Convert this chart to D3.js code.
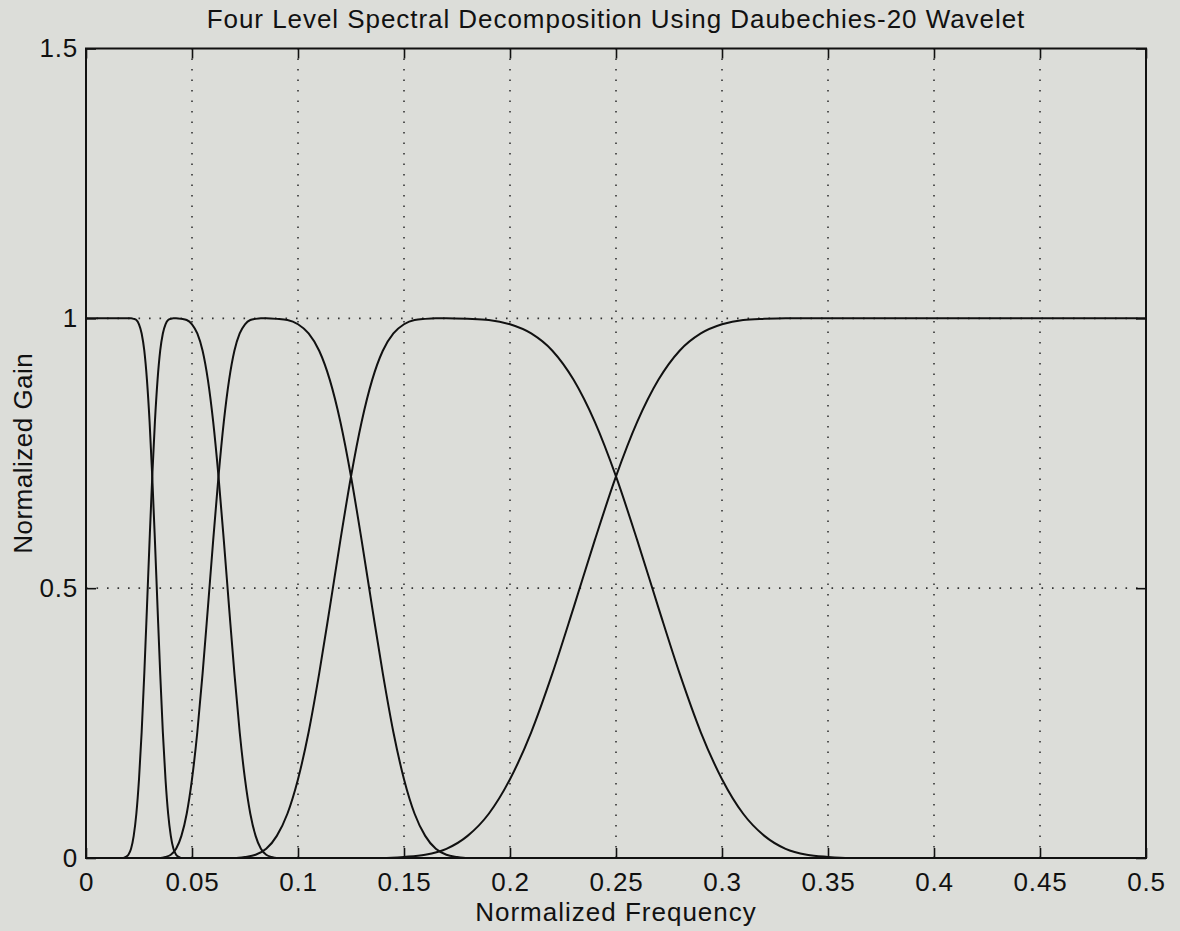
<!DOCTYPE html>
<html>
<head>
<meta charset="utf-8">
<script src="https://cdn.jsdelivr.net/npm/d3@7"></script>
<style>
  html, body { margin: 0; padding: 0; background: #dcddd9; }
  svg { display: block; }
  text { font-family: "Liberation Sans", Arial, Helvetica, sans-serif; fill: #111; }
</style>
</head>
<body>
<svg id="chart" width="1180" height="931"></svg>
<script>
// ---------------- data ----------------
const titleText = "Four Level Spectral Decomposition Using Daubechies-20 Wavelet";
const xLabelText = "Normalized Frequency";
const yLabelText = "Normalized Gain";

const xTickValues = [0, 0.05, 0.1, 0.15, 0.2, 0.25, 0.3, 0.35, 0.4, 0.45, 0.5];
const yTickValues = [0, 0.5, 1, 1.5];
const xGridValues = [0.05, 0.1, 0.15, 0.2, 0.25, 0.3, 0.35, 0.4, 0.45];
const yGridValues = [0.5, 1];

// Level-4 approximation (lowest band)
const freqA4 = [0, 0.02125, 0.0225, 0.02375, 0.025, 0.02625, 0.0275, 0.02875, 0.03, 0.03125,
  0.0325, 0.03375, 0.035, 0.03625, 0.0375, 0.03875, 0.04, 0.04125, 0.0425, 0.04375, 0.045, 0.5];
const gainA4 = [1, 1, 0.999, 0.997, 0.989, 0.972, 0.940, 0.886, 0.808, 0.707,
  0.589, 0.464, 0.342, 0.233, 0.146, 0.082, 0.041, 0.017, 0.006, 0.002, 0, 0];

// Level-4 detail
const freqD4 = [0, 0.0175, 0.01875, 0.02, 0.02125, 0.0225, 0.02375, 0.025, 0.02625, 0.0275,
  0.02875, 0.03, 0.03125, 0.0325, 0.03375, 0.035, 0.03625, 0.0375, 0.03875, 0.04, 0.04125,
  0.0425, 0.045, 0.0475, 0.05, 0.0525, 0.055, 0.0575, 0.06, 0.0625, 0.065, 0.0675, 0.07,
  0.0725, 0.075, 0.0775, 0.08, 0.0825, 0.085, 0.0875, 0.09, 0.5];
const gainD4 = [0, 0, 0.002, 0.006, 0.017, 0.041, 0.082, 0.146, 0.233, 0.342,
  0.464, 0.589, 0.707, 0.808, 0.886, 0.940, 0.972, 0.989, 0.997, 0.999, 1,
  1, 0.999, 0.997, 0.989, 0.972, 0.940, 0.886, 0.808, 0.707, 0.589, 0.464, 0.342,
  0.233, 0.146, 0.082, 0.041, 0.017, 0.006, 0.002, 0, 0];

// Level-3 detail
const freqD3 = [0, 0.035, 0.0375, 0.04, 0.0425, 0.045, 0.0475, 0.05, 0.0525, 0.055,
  0.0575, 0.06, 0.0625, 0.065, 0.0675, 0.07, 0.0725, 0.075, 0.0775, 0.08, 0.0825,
  0.085, 0.09, 0.095, 0.1, 0.105, 0.11, 0.115, 0.12, 0.125, 0.13, 0.135, 0.14,
  0.145, 0.15, 0.155, 0.16, 0.165, 0.17, 0.175, 0.18, 0.5];
const gainD3 = [0, 0, 0.002, 0.006, 0.017, 0.041, 0.082, 0.146, 0.233, 0.342,
  0.464, 0.589, 0.707, 0.808, 0.886, 0.940, 0.972, 0.989, 0.997, 0.999, 1,
  1, 0.999, 0.997, 0.989, 0.972, 0.940, 0.886, 0.808, 0.707, 0.589, 0.464, 0.342,
  0.233, 0.146, 0.082, 0.041, 0.017, 0.006, 0.002, 0, 0];

// Level-2 detail
const freqD2 = [0, 0.07, 0.075, 0.08, 0.085, 0.09, 0.095, 0.1, 0.105, 0.11,
  0.115, 0.12, 0.125, 0.13, 0.135, 0.14, 0.145, 0.15, 0.155, 0.16, 0.165,
  0.17, 0.18, 0.19, 0.2, 0.21, 0.22, 0.23, 0.24, 0.25, 0.26, 0.27, 0.28,
  0.29, 0.3, 0.31, 0.32, 0.33, 0.34, 0.35, 0.36, 0.5];
const gainD2 = [0, 0, 0.002, 0.006, 0.017, 0.041, 0.082, 0.146, 0.233, 0.342,
  0.464, 0.589, 0.707, 0.808, 0.886, 0.940, 0.972, 0.989, 0.997, 0.999, 1,
  1, 0.999, 0.997, 0.989, 0.972, 0.940, 0.886, 0.808, 0.707, 0.589, 0.464, 0.342,
  0.233, 0.146, 0.082, 0.041, 0.017, 0.006, 0.002, 0, 0];

// Level-1 detail (highest band)
const freqD1 = [0, 0.14, 0.15, 0.16, 0.17, 0.18, 0.19, 0.2, 0.21, 0.22, 0.23, 0.24,
  0.25, 0.26, 0.27, 0.28, 0.29, 0.3, 0.31, 0.32, 0.33, 0.34, 0.5];
const gainD1 = [0, 0, 0.002, 0.006, 0.017, 0.041, 0.082, 0.146, 0.233, 0.342, 0.464, 0.589,
  0.707, 0.808, 0.886, 0.940, 0.972, 0.989, 0.997, 0.999, 1, 1, 1];

const seriesList = [
  [freqA4, gainA4], [freqD4, gainD4], [freqD3, gainD3], [freqD2, gainD2], [freqD1, gainD1]
];

// ---------------- layout ----------------
const plot = { left: 86, right: 1146, top: 48.5, bottom: 858 };
const svg = d3.select("#chart");

const x = d3.scaleLinear().domain([0, 0.5]).range([plot.left, plot.right]);
const y = d3.scaleLinear().domain([0, 1.5]).range([plot.bottom, plot.top]);

const fmt = d => String(+d.toFixed(2));

// grid
const grid = svg.append("g");
grid.selectAll("line.gx").data(xGridValues).join("line")
  .attr("x1", d => x(d)).attr("x2", d => x(d))
  .attr("y1", plot.bottom).attr("y2", plot.top)
  .attr("stroke", "#333").attr("stroke-width", 1.6)
  .attr("stroke-dasharray", "1.6,8.9");
grid.selectAll("line.gy").data(yGridValues).join("line")
  .attr("x1", plot.left).attr("x2", plot.right)
  .attr("y1", d => y(d)).attr("y2", d => y(d))
  .attr("stroke", "#333").attr("stroke-width", 1.6)
  .attr("stroke-dasharray", "1.6,8.9");

// curves
const line = d3.line()
  .x(d => x(d[0])).y(d => y(d[1]))
  .curve(d3.curveMonotoneX);
svg.append("g").selectAll("path").data(seriesList).join("path")
  .attr("d", s => line(s[0].map((f, i) => [f, s[1][i]])))
  .attr("fill", "none").attr("stroke", "#111").attr("stroke-width", 2);

// axes
const tickFont = "26px";
const axB = svg.append("g").attr("transform", `translate(0,${plot.bottom})`)
  .call(d3.axisBottom(x).tickValues(xTickValues).tickFormat(fmt).tickSize(-10).tickPadding(15));
const axT = svg.append("g").attr("transform", `translate(0,${plot.top})`)
  .call(d3.axisTop(x).tickValues(xTickValues).tickFormat("").tickSize(-10));
const axL = svg.append("g").attr("transform", `translate(${plot.left},0)`)
  .call(d3.axisLeft(y).tickValues(yTickValues).tickFormat(fmt).tickSize(-10).tickPadding(8));
const axR = svg.append("g").attr("transform", `translate(${plot.right},0)`)
  .call(d3.axisRight(y).tickValues(yTickValues).tickFormat("").tickSize(-10));

[axB, axT, axL, axR].forEach(a => {
  a.select(".domain").remove();
  a.selectAll(".tick line").attr("stroke", "#111").attr("stroke-width", 1.6);
  a.selectAll(".tick text").style("font-size", tickFont).style("letter-spacing", "0.8px")
    .attr("fill", "#111");
});

// frame
svg.append("rect")
  .attr("x", plot.left).attr("y", plot.top)
  .attr("width", plot.right - plot.left).attr("height", plot.bottom - plot.top)
  .attr("fill", "none").attr("stroke", "#111").attr("stroke-width", 2);

// titles
const mid = (plot.left + plot.right) / 2;
svg.append("text").attr("x", mid).attr("y", 28).attr("text-anchor", "middle")
  .style("font-size", "26px").style("letter-spacing", "0.95px").text(titleText);
svg.append("text").attr("x", mid).attr("y", 921).attr("text-anchor", "middle")
  .style("font-size", "26px").style("letter-spacing", "1px").text(xLabelText);
svg.append("text")
  .attr("transform", `translate(31.5,${(plot.top + plot.bottom) / 2}) rotate(-90)`)
  .attr("text-anchor", "middle")
  .style("font-size", "26px").style("letter-spacing", "0.5px").text(yLabelText);
</script>
</body>
</html>
